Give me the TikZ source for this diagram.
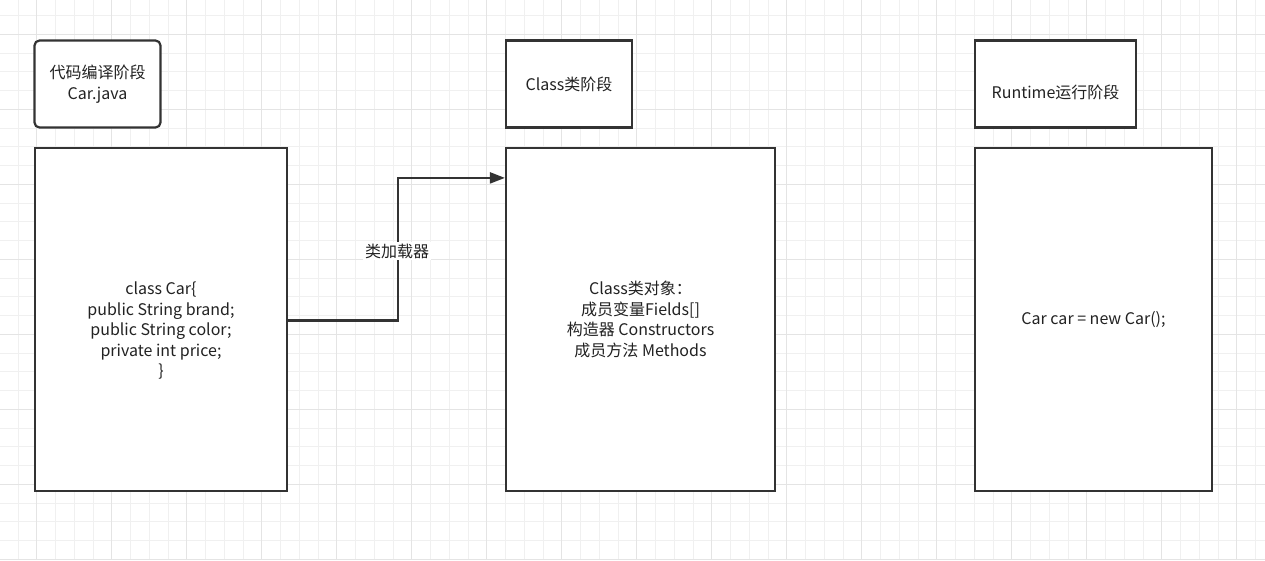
\documentclass[tikz,border=0pt]{standalone}
\usepackage{fontspec}
\setmainfont{Noto Sans CJK SC}
\usetikzlibrary{arrows.meta,positioning}

\begin{document}
\begin{tikzpicture}[
    x=1pt, y=-1pt,
    font=\fontsize{16}{20.5}\selectfont,
    >=Latex,
    minorline/.style={draw=gridgray, line width=0.9pt},
    majorline/.style={draw=gridmajor, line width=1pt},
    box/.style={
        draw=linegray,
        fill=white,
        line width=2.2pt,
        minimum width=#1,
        inner sep=0pt,
        align=center,
        text=textdark
    },
    box/.default=126pt,
    txt/.style={align=center, text=textdark, inner sep=1pt},
    flow/.style={-{Triangle[length=15pt,width=11pt]}, line width=2.2pt, draw=linegray},
    edgelabel/.style={fill=white, text=textdark, inner sep=2pt}
]

\definecolor{gridgray}{RGB}{240,240,240}
\definecolor{gridmajor}{RGB}{228,228,228}
\definecolor{linegray}{RGB}{51,51,51}
\definecolor{textdark}{RGB}{34,34,34}

\useasboundingbox (0,0) rectangle (1265,560);
\fill[white] (0,0) rectangle (1265,560);

% grid
\foreach \i in {0,...,68}
    \draw[minorline] ({-0.8+\i*18.75},0) -- ++(0,560);
\foreach \i in {0,...,30}
    \draw[minorline] (0,{-3.25+\i*18.75}) -- ++(1265,0);
\foreach \i in {0,...,16}
    \draw[majorline] ({36.7+\i*75},0) -- ++(0,560);
\foreach \i in {0,...,7}
    \draw[majorline] (0,{34.3+\i*75}) -- ++(1265,0);

% A. source stage
\node[box=126pt, minimum height=87pt, rounded corners=5pt] (hdrA) at (97.5,84) {代码编译阶段\\Car.java};
\node[box=252pt, minimum height=343pt] (bodyA) at (161,319.5) {};
\node[txt] (codeA) at ([yshift=-11pt]bodyA.center)
    {class Car\{\\public String brand;\\public String color;\\private int price;\\\}};

% B. class stage
\node[box=126pt, minimum height=87pt] (hdrB) at (569,84) {Class类阶段};
\node[box=269pt, minimum height=343pt] (bodyB) at (640.5,319.5)
    {Class类对象：\\成员变量Fields[]\\构造器 Constructors\\成员方法 Methods};

% C. runtime stage
\node[box=161pt, minimum height=87pt] (hdrC) at (1055.5,84) {};
\node[txt] (runC) at ([yshift=-8pt]hdrC.center) {Runtime运行阶段};
\node[box=237pt, minimum height=343pt] (bodyC) at (1093.5,319.5) {Car car = new Car();};

% loader arrow
\coordinate (entry) at ([yshift=-31pt]bodyB.north west);
\draw[flow] ([yshift=-1pt]bodyA.east) -- ++(110,0) |- (entry);
\node[edgelabel] (loader) at (397,251) {类加载器};

\end{tikzpicture}
\end{document}
